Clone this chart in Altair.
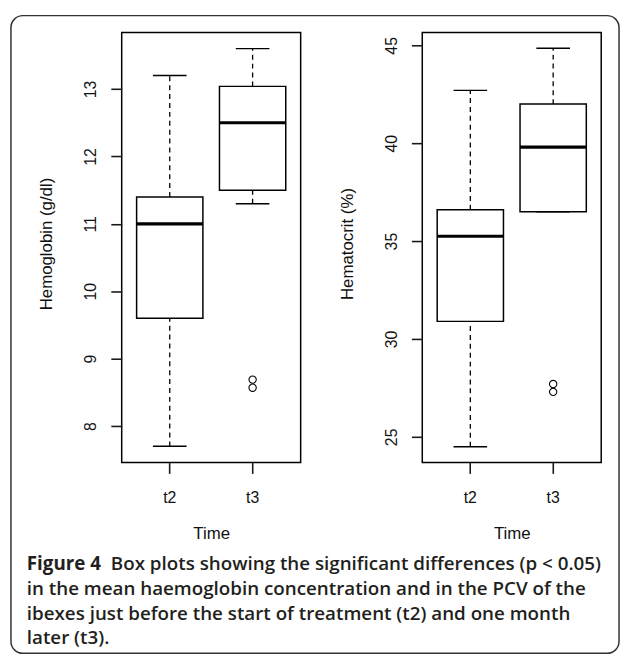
import altair as alt
import pandas as pd

# ---------------- data ----------------
times = ["t2", "t3"]

hb_low = [7.7, 11.3]
hb_q1 = [9.6, 11.5]
hb_med = [11.0, 12.5]
hb_q3 = [11.4, 13.04]
hb_high = [13.2, 13.6]
hb_out_time = ["t3", "t3"]
hb_out_val = [8.57, 8.69]
hb_ticks = [8, 9, 10, 11, 12, 13]
hb_domain = [7.46, 13.84]

hct_low = [24.5, 36.5]
hct_q1 = [30.9, 36.5]
hct_med = [35.25, 39.8]
hct_q3 = [36.6, 42.0]
hct_high = [42.7, 44.85]
hct_out_time = ["t3", "t3"]
hct_out_val = [27.3, 27.7]
hct_ticks = [25, 30, 35, 40, 45]
hct_domain = [23.69, 45.66]

x_title = "Time"
hb_title = "Hemoglobin (g/dl)"
hct_title = "Hematocrit (%)"

cap_bold = "Figure 4"
cap_line1 = "Box plots showing the significant differences (p < 0.05)"
cap_lines = [
    "in the mean haemoglobin concentration and in the PCV of the",
    "ibexes just before the start of treatment (t2) and one month",
    "later (t3).",
]

# ---------------- styling ----------------
PW, PH = 181, 435
AX_FONT = "Liberation Sans"
CAP_FONT = "Open Sans"
CAP_COLOR = "#231f20"
LINE = "#000000"
TICK = "#1a1a1a"


def make_panel(low, q1, med, q3, high, out_t, out_v, domain, ticks, title, decorate=False):
    box_df = pd.DataFrame({"time": times, "low": low, "q1": q1, "med": med, "q3": q3, "high": high})
    out_df = pd.DataFrame({"time": out_t, "val": out_v})

    xenc = alt.X(
        "time:N",
        scale=alt.Scale(domain=times, paddingInner=0.2, paddingOuter=0.18),
        title=x_title,
        axis=alt.Axis(
            domain=False, grid=False, ticks=True, tickSize=11, tickWidth=1.6,
            tickColor=TICK, tickOpacity=1,
            labelAngle=0, labelBaseline="alphabetic", labelPadding=29,
            titleBaseline="alphabetic", titleX=PW / 2, titleY=77,
        ),
    )

    def yenc(field):
        return alt.Y(
            f"{field}:Q",
            scale=alt.Scale(domain=domain, nice=False, zero=False),
            title=title,
            axis=alt.Axis(
                values=ticks, domain=False, grid=False, ticks=True, tickSize=11,
                tickWidth=1.6, tickColor=TICK, tickOpacity=1,
                labelAngle=270, labelAlign="center",
                labelBaseline="alphabetic", labelPadding=15, labelFlush=False,
                titleAngle=270, titleAlign="center", titleBaseline="alphabetic",
                titleX=-71, titleY=PH / 2 - 4,
            ),
        )

    base = alt.Chart(box_df)
    upper = base.mark_rule(color=LINE, strokeWidth=1.3, strokeDash=[5, 4], opacity=1).encode(
        x=xenc, y=yenc("q3"), y2="high:Q")
    lower = base.mark_rule(color=LINE, strokeWidth=1.3, strokeDash=[5, 4], opacity=1).encode(
        x=xenc, y=yenc("low"), y2="q1:Q")
    cap_hi = base.mark_tick(color=LINE, size=34, thickness=1.5, orient="horizontal", opacity=1).encode(
        x=xenc, y=yenc("high"))
    cap_lo = base.mark_tick(color=LINE, size=34, thickness=1.5, orient="horizontal", opacity=1).encode(
        x=xenc, y=yenc("low"))
    box = base.mark_bar(fill="white", stroke=LINE, strokeWidth=1.5, opacity=1).encode(
        x=xenc, y=yenc("q1"), y2="q3:Q")
    median = base.mark_tick(color=LINE, size=67, thickness=3.2, orient="horizontal", opacity=1).encode(
        x=xenc, y=yenc("med"))
    outl = alt.Chart(out_df).mark_point(shape="circle", filled=False, color=LINE,
                                        size=55, strokeWidth=1.1, opacity=1).encode(
        x=xenc, y=yenc("val"))

    layers = [upper, lower, cap_hi, cap_lo, box, median, outl]

    if decorate:
        one = alt.Data(values=[{"k": 1}])
        border = alt.Chart(one).mark_rect(
            cornerRadius=12, fillOpacity=0, stroke="#333333", strokeWidth=1.5
        ).encode(x=alt.value(-112), x2=alt.value(503), y=alt.value(-17), y2=alt.value(628))
        t_bold = alt.Chart(one).mark_text(
            font=CAP_FONT, fontSize=19, fontWeight="bold", color=CAP_COLOR,
            align="left", baseline="alphabetic"
        ).encode(x=alt.value(-96), y=alt.value(544), text=alt.value(cap_bold))
        t_l1 = alt.Chart(one).mark_text(
            font=CAP_FONT, fontSize=19, fontWeight=600, color=CAP_COLOR,
            align="left", baseline="alphabetic"
        ).encode(x=alt.value(-11), y=alt.value(544), text=alt.value(cap_line1))
        t_rest = alt.Chart(one).mark_text(
            font=CAP_FONT, fontSize=19, fontWeight=600, color=CAP_COLOR,
            align="left", baseline="alphabetic", lineBreak="\n", lineHeight=25
        ).encode(x=alt.value(-96), y=alt.value(569), text=alt.value("\n".join(cap_lines)))
        layers += [border, t_bold, t_l1, t_rest]

    return alt.layer(*layers).properties(width=PW, height=PH)


left = make_panel(hb_low, hb_q1, hb_med, hb_q3, hb_high, hb_out_time, hb_out_val,
                  hb_domain, hb_ticks, hb_title, decorate=True)
right = make_panel(hct_low, hct_q1, hct_med, hct_q3, hct_high, hct_out_time, hct_out_val,
                   hct_domain, hct_ticks, hct_title)

chart = alt.hconcat(left, right, spacing=123, bounds="flush").properties(
    padding={"left": 1, "top": 2, "right": 0, "bottom": 0},
    background="white",
).configure_view(
    stroke=LINE, strokeWidth=1.5
).configure_axis(
    ticks=True, tickColor=TICK, tickSize=11, tickWidth=1.6,
    labelFont=AX_FONT, labelFontSize=16, labelColor="#111111",
    titleFont=AX_FONT, titleFontSize=17, titleColor="#111111", titleFontWeight="normal",
)

chart.save("out.html", embed_options={"renderer": "svg", "actions": False})
